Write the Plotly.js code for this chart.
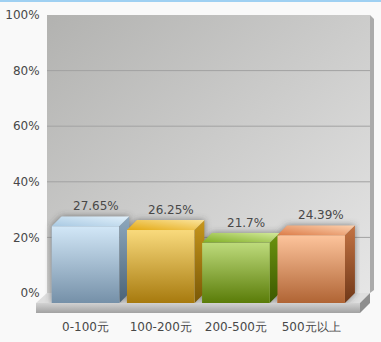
<!DOCTYPE html>
<html><head><meta charset="utf-8">
<script src="https://cdn.plot.ly/plotly-3.0.1.min.js"></script>
<style>html,body{margin:0;padding:0;background:#f9f9f9;}#chart{width:381px;height:342px;}</style>
</head><body><div id="chart"></div>
<script>
// ---- data ----
const categories = ['0-100元', '100-200元', '200-500元', '500元以上'];
const values = [27.65, 26.25, 21.7, 24.39];
const yTickVals = [0, 20, 40, 60, 80, 100];
const yTickText = ['0%', '20%', '40%', '60%', '80%', '100%'];

// ---- colours ----
const frontTop    = ['#d2e7f7', '#f9da7c', '#bedb7c', '#fdc49c'];
const frontBottom = ['#7590a8', '#a77a0e', '#5a7c08', '#b06434'];
const topFront    = ['#a9c9e2', '#e3a812', '#7fae22', '#dc7c48'];
const topBack     = ['#e2f1fb', '#fbe49c', '#d4ea9e', '#fdd2b0'];
const sideTop     = ['#8ea8be', '#c7961c', '#6c9410', '#c47444'];
const sideBottom  = ['#4a6276', '#7a5806', '#3c5800', '#703818'];
const barMid      = ['#a0b8cc', '#d0a840', '#8cac40', '#d89468'];

// ---- geometry (px) ----
const W = 381, H = 342;
const wall = {l: 47, r: 370, t: 15, b: 293};
const depth = 10;
const front = {l: wall.l - depth, r: wall.r - depth, t: wall.t + depth, b: wall.b + depth};
const xRange = [-0.645, 3.65];
const yRange = [0, 100];
const barWidth = 0.9;
const pxPerX = (front.r - front.l) / (xRange[1] - xRange[0]);
const pxPerY = (front.b - front.t) / (yRange[1] - yRange[0]);
const dxU = depth / pxPerX, dyU = depth / pxPerY;
const xIdx = categories.map((c, i) => i);

function svgURI(w, h, body) {
  return 'data:image/svg+xml;charset=utf-8,' + encodeURIComponent(
    '<svg xmlns="http://www.w3.org/2000/svg" width="' + w + '" height="' + h +
    '" viewBox="0 0 ' + w + ' ' + h + '" preserveAspectRatio="none">' + body + '</svg>');
}
function grad(id, c1, c2, x1, y1, x2, y2) {
  return '<defs><linearGradient id="' + id + '" x1="' + x1 + '" y1="' + y1 + '" x2="' + x2 + '" y2="' + y2 +
    '"><stop offset="0" stop-color="' + c1 + '"/><stop offset="1" stop-color="' + c2 + '"/></linearGradient></defs>';
}
const px = v => v / W;
const py = v => 1 - v / H;

const images = [];
// back wall gradient
images.push({
  source: svgURI(100, 100, grad('g', '#b2b2b0', '#e6e6e6', 0, 0, 1, 1) + '<rect width="100" height="100" fill="url(#g)"/>'),
  xref: 'paper', yref: 'paper', x: px(wall.l), y: py(wall.t),
  sizex: (wall.r - wall.l) / W, sizey: (wall.b - wall.t) / H,
  sizing: 'stretch', xanchor: 'left', yanchor: 'top', layer: 'below'
});
// floor front slab gradient
images.push({
  source: svgURI(100, 100, grad('f', '#d2d2d2', '#a2a2a2', 0, 0, 0, 1) + '<rect width="100" height="100" fill="url(#f)"/>'),
  xref: 'paper', yref: 'paper', x: px(front.l - 1), y: py(front.b),
  sizex: (front.r - front.l + 1) / W, sizey: 10 / H,
  sizing: 'stretch', xanchor: 'left', yanchor: 'top', layer: 'below'
});

const bwpx = barWidth * pxPerX;
values.forEach((v, i) => {
  const hpx = v * pxPerY;
  const x0 = xIdx[i] - barWidth / 2;
  // shadow / glow
  const m = 8;
  const sw = bwpx + depth + 2 * m, sh = hpx + depth + 2 * m;
  const poly = [[m, m + depth + hpx], [m, m + depth], [m + depth, m], [m + depth + bwpx, m],
                [m + depth + bwpx, m + hpx], [m + bwpx, m + depth + hpx]].map(p => p.join(',')).join(' ');
  images.push({
    source: svgURI(sw, sh, '<defs><filter id="b" x="-50%" y="-50%" width="200%" height="200%"><feGaussianBlur stdDeviation="3"/></filter></defs>' +
      '<polygon points="' + poly + '" fill="#404040" fill-opacity="0.6" filter="url(#b)"/>'),
    xref: 'x2', yref: 'y2', x: x0 - m / pxPerX, y: v + dyU + m / pxPerY,
    sizex: sw / pxPerX, sizey: sh / pxPerY, sizing: 'stretch', xanchor: 'left', yanchor: 'top', layer: 'below'
  });
});
values.forEach((v, i) => {
  const hpx = v * pxPerY;
  const x0 = xIdx[i] - barWidth / 2;
  // side face
  images.push({
    source: svgURI(depth, hpx + depth, grad('s', sideTop[i], sideBottom[i], 0, 0, 0, 1) +
      '<polygon points="0,' + depth + ' ' + depth + ',0 ' + depth + ',' + hpx + ' 0,' + (hpx + depth) + '" fill="url(#s)"/>'),
    xref: 'x2', yref: 'y2', x: x0 + barWidth, y: v + dyU, sizex: dxU, sizey: v + dyU,
    sizing: 'stretch', xanchor: 'left', yanchor: 'top', layer: 'above'
  });
  // top face
  images.push({
    source: svgURI(bwpx + depth, depth, grad('t', topFront[i], topBack[i], 0, 1, 1, 0) +
      '<polygon points="0,' + depth + ' ' + depth + ',0 ' + (bwpx + depth) + ',0 ' + bwpx + ',' + depth + '" fill="url(#t)"/>'),
    xref: 'x2', yref: 'y2', x: x0, y: v + dyU, sizex: barWidth + dxU, sizey: dyU,
    sizing: 'stretch', xanchor: 'left', yanchor: 'top', layer: 'above'
  });
  // front face
  images.push({
    source: svgURI(bwpx, hpx, grad('fr', frontTop[i], frontBottom[i], 0, 0, 0, 1) +
      '<rect width="' + bwpx + '" height="' + hpx + '" fill="url(#fr)"/>'),
    xref: 'x2', yref: 'y2', x: x0, y: v, sizex: barWidth, sizey: v,
    sizing: 'stretch', xanchor: 'left', yanchor: 'top', layer: 'above'
  });
});

const shapes = [
  // floor top
  {type: 'path', xref: 'paper', yref: 'paper', layer: 'below',
   path: 'M' + px(front.l - 1) + ',' + py(front.b) + ' L' + px(wall.l) + ',' + py(wall.b) + ' L' + px(wall.r) + ',' + py(wall.b) + ' L' + px(front.r) + ',' + py(front.b) + ' Z',
   fillcolor: '#dedede', line: {width: 0}},
  // floor right end
  {type: 'path', xref: 'paper', yref: 'paper', layer: 'below',
   path: 'M' + px(front.r) + ',' + py(front.b) + ' L' + px(wall.r) + ',' + py(wall.b) + ' L' + px(wall.r) + ',' + py(wall.b + 10) + ' L' + px(front.r) + ',' + py(front.b + 10) + ' Z',
   fillcolor: '#8e8e8e', line: {width: 0}},
  // wall right edge
  {type: 'path', xref: 'paper', yref: 'paper', layer: 'below',
   path: 'M' + px(wall.r) + ',' + py(wall.t) + ' L' + px(wall.r + 4) + ',' + py(wall.t + 4) + ' L' + px(wall.r + 4) + ',' + py(wall.b - 3) + ' L' + px(wall.r) + ',' + py(wall.b) + ' Z',
   fillcolor: '#ababab', line: {width: 0}},
  // top blue line
  {type: 'line', xref: 'paper', yref: 'paper', x0: 0, x1: 1, y0: 1 - 1 / H, y1: 1 - 1 / H,
   line: {color: '#9fd0f2', width: 2}}
];
// interior gridlines on the back wall (tick values strictly inside the range)
yTickVals.filter(v => v > yRange[0] && v < yRange[1]).forEach(v => {
  shapes.push({type: 'line', xref: 'x', yref: 'y', layer: 'below',
               x0: xRange[0], x1: xRange[1], y0: v, y1: v, line: {color: '#a2a2a2', width: 1}});
});

const font = {family: '"DejaVu Sans", Verdana, sans-serif', size: 12, color: '#484848'};

const annotations = values.map((v, i) => ({
  xref: 'x2', yref: 'y2', x: xIdx[i] + dxU, y: v + dyU, text: v + '%',
  showarrow: false, yanchor: 'bottom', xanchor: 'center', yshift: 1, font: font
}));

const traces = [
  {type: 'scatter', x: [], y: [], xaxis: 'x', yaxis: 'y', showlegend: false, hoverinfo: 'skip'},
  {type: 'bar', x: xIdx, y: values, xaxis: 'x2', yaxis: 'y2', width: barWidth,
   marker: {color: barMid, line: {width: 0}}, hoverinfo: 'skip', showlegend: false}
];

const layout = {
  width: W, height: H,
  margin: {l: 0, r: 0, t: 0, b: 0},
  paper_bgcolor: '#f9f9f9', plot_bgcolor: 'rgba(0,0,0,0)',
  showlegend: false, font: font,
  xaxis: {domain: [px(wall.l), px(wall.r)], range: xRange, anchor: 'y',
          showgrid: false, zeroline: false, showticklabels: false, showline: false, ticks: ''},
  yaxis: {domain: [py(wall.b), py(wall.t)], range: yRange, anchor: 'x',
          tickvals: yTickVals, ticktext: yTickText, showgrid: false,
          zeroline: false, showline: false, ticks: 'outside', ticklen: 4, tickcolor: 'rgba(0,0,0,0)',
          tickfont: font},
  xaxis2: {domain: [px(front.l), px(front.r)], range: xRange, anchor: 'y2',
           tickvals: xIdx, ticktext: categories, showgrid: false, zeroline: false, showline: false,
           ticks: 'outside', ticklen: 13, tickcolor: 'rgba(0,0,0,0)', tickfont: font},
  yaxis2: {domain: [py(front.b), py(front.t)], range: yRange, anchor: 'x2',
           visible: false, showgrid: false, zeroline: false},
  images: images, shapes: shapes, annotations: annotations
};

Plotly.newPlot('chart', traces, layout, {staticPlot: true, displayModeBar: false});
</script>
</body></html>
